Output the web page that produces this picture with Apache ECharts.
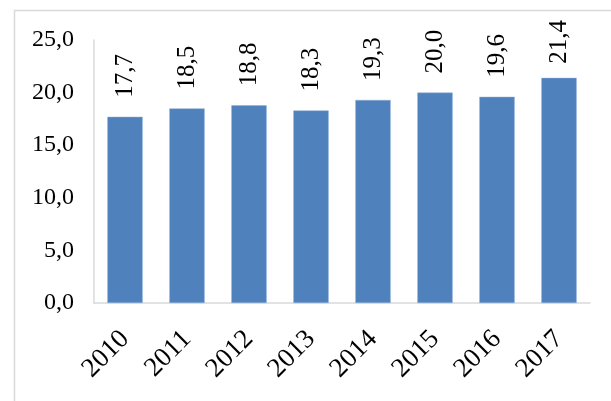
<!DOCTYPE html>
<html>
<head>
<meta charset="utf-8">
<script src="https://cdn.jsdelivr.net/npm/echarts@6/dist/echarts.min.js"></script>
<style>
  html, body { margin: 0; padding: 0; background: #fff; }
</style>
</head>
<body>
<div id="main" style="width: 611px; height: 401px"></div>
<script>
var years = ['2010', '2011', '2012', '2013', '2014', '2015', '2016', '2017'];
var values = [17.7, 18.5, 18.8, 18.3, 19.3, 20.0, 19.6, 21.4];

var font = '"Liberation Serif", "Times New Roman", serif';
var fmt = function (v) { return v.toFixed(1).replace('.', ','); };

var chartDom = document.getElementById('main');
var myChart = echarts.init(chartDom);
var option;

// the last label sits a bit closer to its bar, it is near the top edge
var barData = values.map(function (v, i) {
    return i === values.length - 1 ? { value: v, label: { distance: 14 } } : v;
});

option = {
    animation: false,
    textStyle: { fontFamily: font },
    graphic: [
        {
            type: 'rect',
            shape: { x: 14.5, y: 10.5, width: 700, height: 500 },
            style: { fill: 'none', stroke: '#d9d9d9', lineWidth: 1.5 },
            silent: true
        }
    ],
    grid: { left: 94, right: 21, top: 40, bottom: 98 },
    xAxis: {
        type: 'category',
        data: years,
        axisLine: { lineStyle: { color: '#d9d9d9', width: 1.5 } },
        axisTick: { show: false },
        axisLabel: {
            rotate: 45,
            margin: 32,
            color: '#000',
            fontSize: 27,
            fontFamily: font
        }
    },
    yAxis: {
        type: 'value',
        min: 0,
        max: 25,
        interval: 5,
        splitLine: { show: false },
        axisLine: { show: true, lineStyle: { color: '#d9d9d9', width: 1.5 } },
        axisTick: { show: false },
        axisLabel: {
            margin: 20,
            color: '#000',
            fontSize: 24,
            fontFamily: font,
            formatter: fmt
        }
    },
    series: [
        {
            type: 'bar',
            data: barData,
            barWidth: '57%',
            itemStyle: { color: '#4f81bd', borderColor: '#8eaedb', borderWidth: 0.5 },
            label: {
                show: true,
                position: 'top',
                rotate: 90,
                align: 'left',
                verticalAlign: 'middle',
                distance: 19,
                color: '#000',
                fontSize: 25,
                fontFamily: font,
                formatter: function (p) { return fmt(p.value); }
            }
        }
    ]
};

option && myChart.setOption(option);
</script>
</body>
</html>
